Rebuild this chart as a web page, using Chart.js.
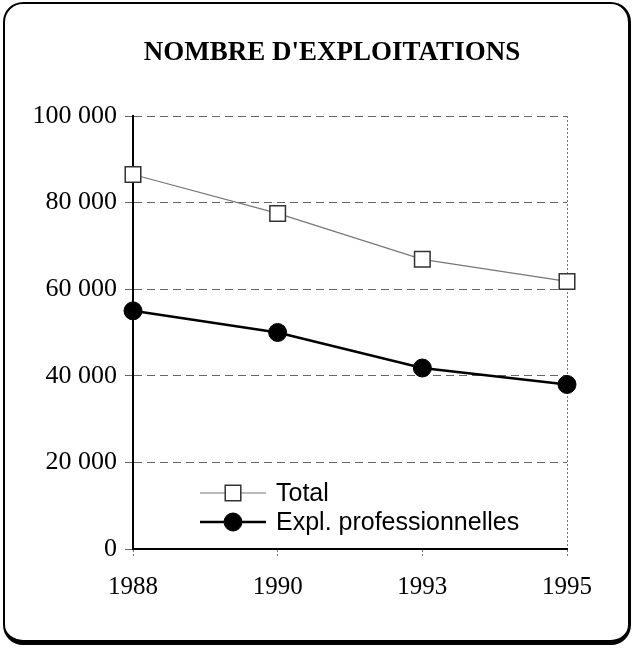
<!DOCTYPE html>
<html>
<head>
<meta charset="utf-8">
<script src="https://cdn.jsdelivr.net/npm/chart.js@4"></script>
<style>
    body { margin: 0; background: #fff; }
    #wrap { position: relative; width: 633px; height: 652px; }
    #frame {
        position: absolute; left: 3px; top: 2px; width: 628px; height: 643px;
        box-sizing: border-box; border: 2px solid #000;
        border-right-width: 3px; border-bottom-width: 5px;
        border-radius: 20px; pointer-events: none;
    }
</style>
</head>
<body>
<div id="wrap">
    <canvas id="exploitChart" width="633" height="652"></canvas>
    <div id="frame"></div>
</div>
<script>
// Données
const years = ['1988', '1990', '1993', '1995'];
const totalValues = [86500, 77500, 66900, 61800];
const proValues = [55000, 50000, 41800, 38000];
const seriesNames = ['Total', 'Expl. professionnelles'];
const yTicks = [0, 20000, 40000, 60000, 80000, 100000];
const chartTitle = "NOMBRE D'EXPLOITATIONS";

const SERIF = "'Liberation Serif', 'Times New Roman', serif";
const SANS = "'Liberation Sans', Arial, sans-serif";

function formatThousands(v) {
    return String(v).replace(/\B(?=(\d{3})+(?!\d))/g, ' ');
}

// Titre centré sur le cadre (pas sur la zone du graphique)
const frameTitle = {
    id: 'frameTitle',
    afterDraw(chart) {
        const ctx = chart.ctx;
        ctx.save();
        ctx.fillStyle = '#000';
        ctx.font = 'bold 27px ' + SERIF;
        ctx.textAlign = 'center';
        ctx.textBaseline = 'middle';
        ctx.fillText(chartTitle, 332, 53);
        ctx.restore();
    }
};

// Légende dessinée dans la zone du graphique
const insideLegend = {
    id: 'insideLegend',
    afterDatasetsDraw(chart) {
        const ctx = chart.ctx;
        const rows = [
            { y: 493, ds: chart.data.datasets[0] },
            { y: 522, ds: chart.data.datasets[1] }
        ];
        ctx.save();
        rows.forEach(row => {
            const ds = row.ds;
            ctx.strokeStyle = ds.borderColor;
            ctx.lineWidth = ds.borderWidth;
            ctx.beginPath();
            ctx.moveTo(200, row.y);
            ctx.lineTo(266, row.y);
            ctx.stroke();
            const cx = 233;
            ctx.fillStyle = ds.pointBackgroundColor;
            ctx.strokeStyle = ds.pointBorderColor;
            ctx.lineWidth = ds.pointBorderWidth;
            ctx.beginPath();
            if (ds.pointStyle === 'rect') {
                const s = Math.SQRT1_2 * ds.pointRadius;
                ctx.rect(cx - s, row.y - s, 2 * s, 2 * s);
            } else {
                ctx.arc(cx, row.y, ds.pointRadius, 0, Math.PI * 2);
            }
            ctx.fill();
            ctx.stroke();
            ctx.fillStyle = '#000';
            ctx.font = '25px ' + SANS;
            ctx.textBaseline = 'middle';
            ctx.textAlign = 'left';
            ctx.fillText(ds.label, 276, row.y + 1);
        });
        ctx.restore();
    }
};

new Chart(document.getElementById('exploitChart'), {
    type: 'line',
    data: {
        labels: years,
        datasets: [
            {
                label: seriesNames[0],
                data: totalValues,
                borderColor: '#777',
                borderWidth: 1.2,
                pointStyle: 'rect',
                pointRadius: 11,
                pointBackgroundColor: '#fff',
                pointBorderColor: '#333',
                pointBorderWidth: 1.5,
                tension: 0
            },
            {
                label: seriesNames[1],
                data: proValues,
                borderColor: '#000',
                borderWidth: 2.5,
                pointStyle: 'circle',
                pointRadius: 9,
                pointBackgroundColor: '#000',
                pointBorderColor: '#000',
                pointBorderWidth: 1,
                tension: 0
            }
        ]
    },
    options: {
        responsive: false,
        animation: false,
        layout: { padding: { left: 0, right: 66, top: 116, bottom: 0 } },
        plugins: {
            legend: { display: false },
            tooltip: { enabled: false },
            title: { display: false }
        },
        scales: {
            x: {
                offset: false,
                grid: {
                    display: true,
                    drawOnChartArea: true,
                    color: ctx => ctx.index === years.length - 1 ? '#777' : 'rgba(0,0,0,0)',
                    drawTicks: true,
                    tickLength: 7,
                    tickColor: '#777',
                    tickBorderDash: [2, 2]
                },
                border: { display: true, color: '#000', width: 2, dash: [2, 2] },
                ticks: {
                    color: '#000',
                    font: { family: SERIF, size: 25 },
                    padding: 16,
                    maxRotation: 0
                },
                afterFit: scale => { scale.height = 103; }
            },
            y: {
                min: 0,
                max: 100000,
                afterBuildTicks: scale => { scale.ticks = yTicks.map(v => ({ value: v })); },
                grid: {
                    color: '#666',
                    lineWidth: 1,
                    drawTicks: true,
                    tickLength: 8,
                    tickColor: '#666'
                },
                border: { display: true, color: '#000', width: 2, dash: [8, 5] },
                ticks: {
                    color: '#000',
                    font: { family: SERIF, size: 26 },
                    padding: 8,
                    callback: v => formatThousands(v)
                },
                afterFit: scale => { scale.width = 133; }
            }
        }
    },
    plugins: [insideLegend, frameTitle]
});
</script>
</body>
</html>
